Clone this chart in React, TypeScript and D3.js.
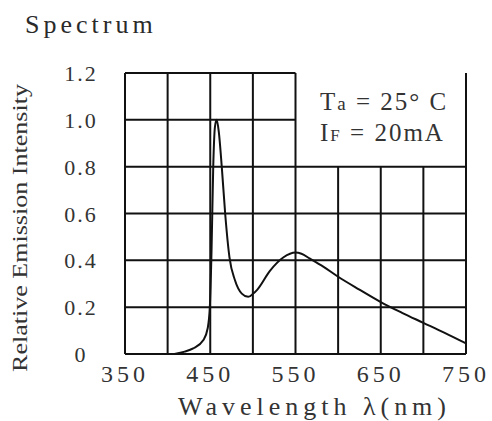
import * as d3 from "d3";

// spectrum readings (nm, relative intensity)
const wavelengths = [408, 420, 430, 442, 447, 449.5, 451.5, 453.5, 455.5, 457.5, 460, 463.5, 467.5, 472.5, 479, 487, 494.5, 500.5, 505, 520, 536, 550, 557, 567, 583, 600, 625, 650, 675, 700, 725, 750];
const intensities = [0, 0.01, 0.024, 0.06, 0.11, 0.2, 0.44, 0.8, 0.97, 1.0, 0.95, 0.8, 0.6, 0.414, 0.315, 0.258, 0.244, 0.258, 0.274, 0.355, 0.413, 0.433, 0.428, 0.407, 0.372, 0.33, 0.275, 0.222, 0.176, 0.133, 0.09, 0.045];

const xGrid = [350, 400, 450, 500, 550, 600, 650, 700, 750];
const yGrid = [0, 0.2, 0.4, 0.6, 0.8, 1.0, 1.2];
const xTickLabels = ["350", "450", "550", "650", "750"];
const yTickLabels = ["0", "0.2", "0.4", "0.6", "0.8", "1.0", "1.2"];

const font = "'Liberation Serif', 'Times New Roman', serif";

export default function App() {
  const width = 492;
  const height = 421;
  const m = { left: 125, right: 26, top: 73, bottom: 67 };

  const x = d3.scaleLinear().domain([350, 750]).range([m.left, width - m.right]);
  const y = d3.scaleLinear().domain([0, 1.2]).range([height - m.bottom, m.top]);

  const pts = wavelengths.map((w, i) => [w, intensities[i]] as [number, number]);
  const line = d3
    .line<[number, number]>()
    .x((d) => x(d[0]))
    .y((d) => y(d[1]))
    .curve(d3.curveMonotoneX);

  // legend box covers 550-750 nm, 0.8-1.2
  const boxX0 = 550;
  const boxY0 = 0.8;
  const inBox = (w: number, v: number) => w > boxX0 && w < 750 && v > boxY0;

  return (
    <svg
      width={width}
      height={height}
      style={{ position: "absolute", left: 0, top: 0, background: "#fff" }}
      fontFamily={font}
    >
      <text x={25} y={33} fontSize={26} letterSpacing={4} fill="#2a2a2a">
        Spectrum
      </text>

      {/* grid */}
      <g stroke="#111" strokeWidth={2} fill="none">
        {xGrid.map((w) => (
          <line
            key={"v" + w}
            x1={x(w)}
            x2={x(w)}
            y1={y(0)}
            y2={inBox(w, 1) ? y(boxY0) : y(1.2)}
          />
        ))}
        {yGrid.map((v) => (
          <line
            key={"h" + v}
            y1={y(v)}
            y2={y(v)}
            x1={x(350)}
            x2={inBox(700, v) ? x(boxX0) : x(750)}
          />
        ))}
      </g>

      {/* spectrum curve */}
      <path d={line(pts) ?? ""} fill="none" stroke="#111" strokeWidth={2} />

      {/* y tick labels */}
      {yTickLabels.map((t, i) => (
        <text
          key={t}
          x={81}
          y={y(yGrid[i]) + 8}
          textAnchor="middle"
          fontSize={22}
          letterSpacing={2}
          fill="#333"
        >
          {t}
        </text>
      ))}

      {/* x tick labels */}
      {xTickLabels.map((t) => (
        <text
          key={t}
          x={x(+t)}
          y={382}
          textAnchor="middle"
          fontSize={24}
          letterSpacing={4}
          fill="#333"
        >
          {t}
        </text>
      ))}

      <text
        x={178}
        y={415}
        fontSize={26}
        textLength={268}
        lengthAdjust="spacing"
        fill="#333"
      >
        Wavelength λ(nm)
      </text>

      <text
        transform={`translate(27, ${228}) rotate(-90)`}
        textAnchor="middle"
        fontSize={20}
        textLength={288}
        lengthAdjust="spacingAndGlyphs"
        fill="#333"
      >
        Relative Emission Intensity
      </text>

      {/* conditions */}
      <text x={320} y={110} fontSize={25} letterSpacing={2} fill="#333">
        T<tspan fontSize={19}>a</tspan> = 25° C
      </text>
      <text x={320} y={141} fontSize={25} letterSpacing={2} fill="#333">
        I<tspan fontSize={17}>F</tspan> = 20mA
      </text>
    </svg>
  );
}
